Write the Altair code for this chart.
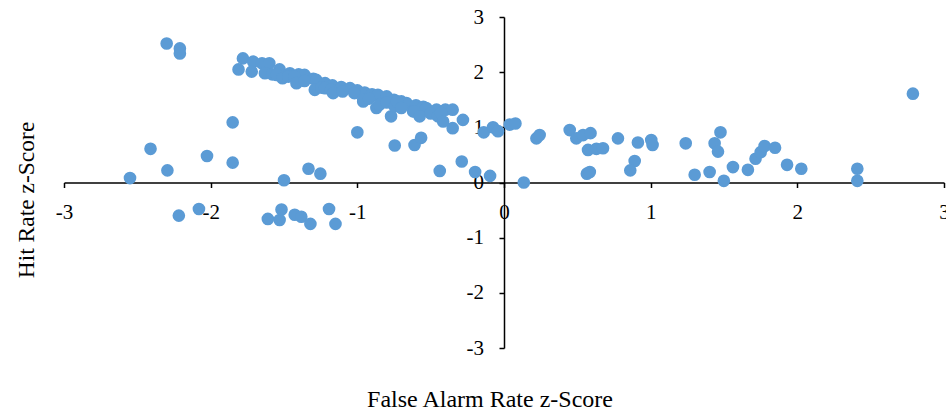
import altair as alt
import pandas as pd

# z-scores for each observer: false alarm rate (x) and hit rate (y)
false_alarm_z = [
    # upper-left outliers
    -2.30, -2.21, -2.21,
    # main diagonal band, upper row
    -1.78, -1.71, -1.65, -1.60, -1.53, -1.46, -1.40, -1.36, -1.30, -1.28,
    -1.22, -1.17, -1.11, -1.05, -1.00, -0.95, -0.90, -0.86, -0.80, -0.75,
    -0.70, -0.665, -0.60, -0.55, -0.53, -0.46, -0.40, -0.35,
    # main diagonal band, lower row
    -1.81, -1.72, -1.63, -1.58, -1.55, -1.51, -1.47, -1.43, -1.415, -1.36,
    -1.29, -1.245, -1.22, -1.18, -1.165, -1.10, -1.02, -0.96, -0.96, -0.92,
    -0.87, -0.85, -0.80, -0.77, -0.745, -0.73, -0.70, -0.62, -0.61, -0.575,
    -0.50, -0.45, -0.43, -0.415, -0.28, -0.35,
    # below the band
    -1.00, -0.745, -0.61, -0.565,
    # left side, near and below zero
    -1.85, -2.55, -2.41, -2.295, -2.025, -1.85, -1.50, -1.333, -1.252,
    -2.217, -2.08, -1.61, -1.53, -1.517, -1.427, -1.382, -1.32, -1.193, -1.149,
    # around the origin
    -0.438, -0.288, -0.197, -0.095, -0.138, -0.075, -0.041, 0.039, 0.078, 0.135,
    # right side
    0.221, 0.243, 0.448, 0.493, 0.539, 0.59, 0.573, 0.63, 0.675, 0.565, 0.585,
    0.777, 0.913, 1.004, 1.013, 0.891, 0.861, 1.239, 1.30, 1.402, 1.436, 1.459,
    1.476, 1.499, 1.561, 1.663, 1.715, 1.75, 1.777, 1.848, 1.93, 2.027,
    2.409, 2.409, 2.788,
]

hit_z = [
    2.52, 2.43, 2.34,
    2.25, 2.19, 2.16, 2.16, 2.05, 1.98, 1.96, 1.95, 1.88, 1.86,
    1.80, 1.76, 1.73, 1.71, 1.67, 1.63, 1.60, 1.59, 1.56, 1.50,
    1.47, 1.44, 1.40, 1.37, 1.35, 1.32, 1.32, 1.32,
    2.05, 2.01, 1.98, 1.96, 1.95, 1.89, 1.92, 1.92, 1.80, 1.84,
    1.68, 1.72, 1.71, 1.68, 1.62, 1.65, 1.62, 1.47, 1.50, 1.52,
    1.35, 1.41, 1.45, 1.20, 1.38, 1.47, 1.35, 1.29, 1.29, 1.20,
    1.25, 1.20, 1.26, 1.105, 1.135, 0.985,
    0.91, 0.67, 0.68, 0.81,
    1.09, 0.08, 0.61, 0.22, 0.48, 0.36, 0.04, 0.25, 0.16,
    -0.60, -0.48, -0.66, -0.68, -0.49, -0.585, -0.62, -0.75, -0.48, -0.75,
    0.21, 0.38, 0.19, 0.12, 0.91, 1.00, 0.93, 1.05, 1.07, 0.00,
    0.80, 0.86, 0.95, 0.80, 0.86, 0.895, 0.59, 0.61, 0.62, 0.16, 0.19,
    0.80, 0.725, 0.77, 0.68, 0.39, 0.22, 0.71, 0.14, 0.19, 0.71, 0.56,
    0.91, 0.03, 0.28, 0.23, 0.43, 0.55, 0.66, 0.63, 0.32, 0.25,
    0.25, 0.03, 1.61,
]

x_ticks = [-3, -2, -1, 0, 1, 2, 3]
y_ticks = [-3, -2, -1, 0, 1, 2, 3]

df = pd.DataFrame({"fa": false_alarm_z, "hit": hit_z})

W, H = 880, 331
FONT = "Liberation Serif"

x_axis = alt.Axis(
    values=x_ticks,
    orient="bottom",
    offset=-H / 2,
    grid=False,
    domainColor="black",
    domainWidth=1.5,
    tickColor="black",
    tickWidth=1.5,
    tickSize=5,
    labelFont=FONT,
    labelFontSize=21,
    labelColor="black",
    labelPadding=25,
    labelBaseline="middle",
    labelFlush=False,
    labelOverlap=False,
    labelExpr="'' + datum.value",
    title="False Alarm Rate z-Score",
    titleFont=FONT,
    titleFontSize=24,
    titleFontWeight="normal",
    titleColor="black",
    titleX=425.5,
    titleY=223.5,
    titleAlign="center",
    titleBaseline="alphabetic",
)

y_axis = alt.Axis(
    values=y_ticks,
    orient="left",
    offset=-W / 2,
    grid=False,
    domainColor="black",
    domainWidth=1.5,
    tickColor="black",
    tickWidth=1.5,
    tickSize=5,
    labelFont=FONT,
    labelFontSize=21,
    labelColor="black",
    labelPadding=15.5,
    labelBaseline="middle",
    labelFlush=False,
    labelOverlap=False,
    labelExpr="'' + datum.value",
    title="Hit Rate z-Score",
    titleFont=FONT,
    titleFontSize=23.5,
    titleFontWeight="normal",
    titleColor="black",
    titleAngle=270,
    titleX=-471,
    titleY=182.5,
    titleAlign="center",
    titleBaseline="alphabetic",
)

chart = (
    alt.Chart(df)
    .mark_circle(size=160, color="#5B9BD5", opacity=1)
    .encode(
        x=alt.X("fa:Q", scale=alt.Scale(domain=[-3, 3], nice=False, zero=False), axis=x_axis),
        y=alt.Y("hit:Q", scale=alt.Scale(domain=[-3, 3], nice=False, zero=False), axis=y_axis),
    )
    .properties(
        width=W,
        height=H,
        autosize=alt.AutoSizeParams(type="none"),
        padding={"left": 64, "top": 17, "right": 2, "bottom": 64},
        background="white",
    )
    .configure_view(stroke=None)
)

chart.save("out.html", embed_options={"renderer": "svg", "actions": False})
